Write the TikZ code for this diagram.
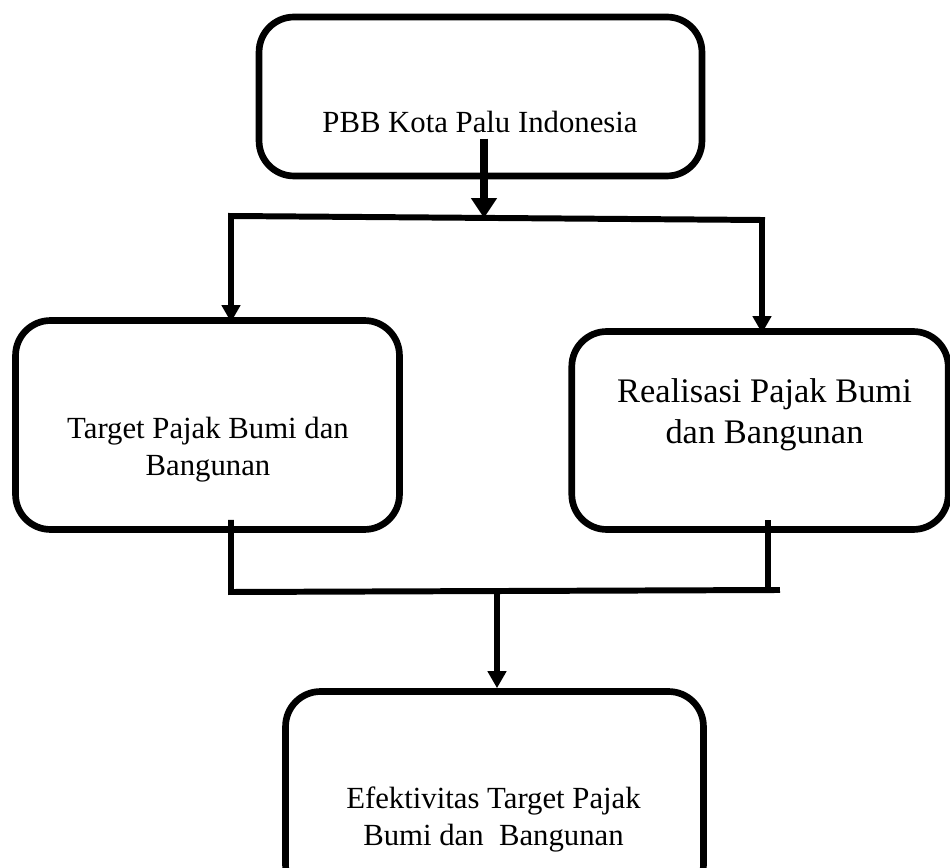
\documentclass[tikz,border=0pt]{standalone}
\usepackage{fontspec}
\setmainfont{Liberation Serif}
\usetikzlibrary{arrows.meta, calc}

\begin{document}
\begin{tikzpicture}[
        x=0.02cm, y=-0.02cm,
        box/.style={draw=black, rounded corners=0.7cm, line width=3.8pt},
        txt/.style={align=center, inner sep=0pt, font=\fontsize{17.5}{21}\selectfont},
        wire/.style={line width=3.4pt, line cap=rect},
        arr/.style={-{Triangle[length=0.34cm, width=0.36cm]}, line width=3.4pt, line cap=rect},
        bigarr/.style={-{Triangle[length=0.4cm, width=0.5cm]}, line width=4.5pt}
    ]
        \useasboundingbox (0,0) rectangle (950,868);
        \clip (0,0) rectangle (950,868);
        % boxes
        \node[box, minimum width=8.86cm, minimum height=3.18cm] (pbb) at (480.5,96.5) {};
        \node[box, minimum width=7.68cm, minimum height=4.18cm] (target) at (207.5,425) {};
        \node[box, minimum width=7.53cm, minimum height=3.96cm] (real) at (760,430.5) {};
        \node[box, minimum width=8.36cm, minimum height=4.17cm] (eff) at (494.5,795.75) {};
        % texts
        \node[txt, anchor=base] (pbbtxt) at (480,133) {PBB Kota Palu Indonesia};
        \node[txt] (targettxt) at (208,450) {Target Pajak Bumi dan\\Bangunan};
        \node[txt, font=\fontsize{19.6}{23.2}\selectfont] (realtxt) at (764.5,414.5) {Realisasi Pajak Bumi\\dan Bangunan};
        \node[txt] (efftxt) at (493.5,819.5) {Efektivitas Target Pajak\\Bumi dan~ Bangunan};
        % split points
        \coordinate (tl) at (231,216);
        \coordinate (tr) at (762,220);
        \coordinate (mid) at (484,218);
        \coordinate (bl) at (231,592);
        \coordinate (br) at (777,590);
        \coordinate (rv) at (768,590.5);
        \coordinate (mid2) at (497,591);
        % connectors
        \draw[bigarr] ($(pbbtxt.south -| mid)+(0,5)$) -- (mid);
        \draw[arr, shorten >=-0.1cm] (tr) -- (tl) -- (tl |- target.north);
        \draw[arr, shorten >=-0.1cm] (tr) -- (tr |- real.north);
        \draw[wire] ($(target.south -| bl)+(0,-10)$) -- (bl) -- (br);
        \draw[wire] ($(real.south -| rv)+(0,-10)$) -- (rv);
        \draw[arr] (mid2) -- (eff.north -| mid2);
\end{tikzpicture}
\end{document}
